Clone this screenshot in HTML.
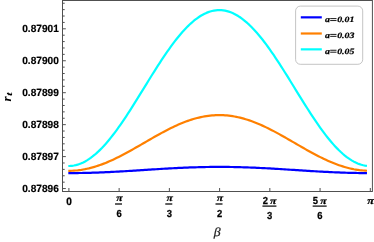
<!DOCTYPE html>
<html><head><meta charset="utf-8"><title>plot</title>
<style>html,body{margin:0;padding:0;background:#fff;}body{width:374px;height:242px;overflow:hidden;position:relative;font-family:"Liberation Sans",sans-serif;}</style>
</head><body>
<svg width="374" height="242" viewBox="0 0 374 242" style="position:absolute;left:0;top:0;will-change:transform;text-rendering:geometricPrecision">
<path d="M68.31,166.00 L70.18,165.96 L72.05,165.80 L73.91,165.52 L75.78,165.13 L77.65,164.62 L79.51,163.99 L81.38,163.25 L83.25,162.40 L85.11,161.43 L86.98,160.35 L88.84,159.16 L90.71,157.86 L92.58,156.46 L94.44,154.96 L96.31,153.35 L98.18,151.65 L100.04,149.84 L101.91,147.95 L103.78,145.96 L105.64,143.89 L107.51,141.73 L109.38,139.49 L111.24,137.17 L113.11,134.78 L114.98,132.32 L116.84,129.79 L118.71,127.20 L120.58,124.55 L122.44,121.84 L124.31,119.08 L126.18,116.27 L128.04,113.43 L129.91,110.54 L131.78,107.62 L133.64,104.67 L135.51,101.69 L137.38,98.70 L139.24,95.69 L141.11,92.66 L142.98,89.63 L144.84,86.60 L146.71,83.57 L148.58,80.54 L150.44,77.53 L152.31,74.53 L154.18,71.56 L156.04,68.61 L157.91,65.69 L159.78,62.80 L161.64,59.95 L163.51,57.14 L165.38,54.38 L167.24,51.67 L169.11,49.02 L170.98,46.42 L172.84,43.89 L174.71,41.42 L176.58,39.03 L178.44,36.71 L180.31,34.46 L182.18,32.30 L184.04,30.23 L185.91,28.24 L187.77,26.34 L189.64,24.53 L191.51,22.82 L193.37,21.21 L195.24,19.70 L197.11,18.29 L198.97,16.99 L200.84,15.80 L202.71,14.72 L204.57,13.74 L206.44,12.88 L208.31,12.14 L210.17,11.51 L212.04,10.99 L213.91,10.59 L215.77,10.31 L217.64,10.15 L219.51,10.10 L221.37,10.17 L223.24,10.36 L225.11,10.67 L226.97,11.10 L228.84,11.64 L230.71,12.29 L232.57,13.07 L234.44,13.95 L236.31,14.95 L238.17,16.06 L240.04,17.27 L241.91,18.60 L243.77,20.03 L245.64,21.56 L247.51,23.19 L249.37,24.92 L251.24,26.75 L253.11,28.67 L254.97,30.68 L256.84,32.78 L258.71,34.96 L260.57,37.22 L262.44,39.55 L264.31,41.96 L266.17,44.44 L268.04,46.99 L269.91,49.60 L271.77,52.27 L273.64,54.99 L275.51,57.76 L277.37,60.58 L279.24,63.44 L281.11,66.33 L282.97,69.26 L284.84,72.22 L286.71,75.20 L288.57,78.20 L290.44,81.21 L292.30,84.24 L294.17,87.27 L296.04,90.31 L297.90,93.33 L299.77,96.36 L301.64,99.37 L303.50,102.36 L305.37,105.33 L307.24,108.27 L309.10,111.18 L310.97,114.06 L312.84,116.90 L314.70,119.70 L316.57,122.44 L318.44,125.14 L320.30,127.78 L322.17,130.36 L324.04,132.87 L325.90,135.32 L327.77,137.70 L329.64,140.00 L331.50,142.22 L333.37,144.36 L335.24,146.41 L337.10,148.38 L338.97,150.25 L340.84,152.03 L342.70,153.72 L344.57,155.30 L346.44,156.78 L348.30,158.16 L350.17,159.43 L352.04,160.60 L353.90,161.65 L355.77,162.59 L357.64,163.43 L359.50,164.14 L361.37,164.74 L363.24,165.23 L365.10,165.59 L366.97,165.84" fill="none" stroke="#00ffff" stroke-width="2.2" stroke-linejoin="round"/>
<path d="M68.31,170.80 L70.18,170.78 L72.05,170.73 L73.91,170.63 L75.78,170.49 L77.65,170.31 L79.51,170.08 L81.38,169.82 L83.25,169.51 L85.11,169.17 L86.98,168.78 L88.84,168.36 L90.71,167.89 L92.58,167.39 L94.44,166.85 L96.31,166.28 L98.18,165.67 L100.04,165.03 L101.91,164.35 L103.78,163.64 L105.64,162.90 L107.51,162.13 L109.38,161.33 L111.24,160.50 L113.11,159.65 L114.98,158.77 L116.84,157.86 L118.71,156.94 L120.58,155.99 L122.44,155.02 L124.31,154.04 L126.18,153.03 L128.04,152.02 L129.91,150.99 L131.78,149.94 L133.64,148.89 L135.51,147.82 L137.38,146.75 L139.24,145.68 L141.11,144.60 L142.98,143.52 L144.84,142.43 L146.71,141.35 L148.58,140.27 L150.44,139.19 L152.31,138.12 L154.18,137.06 L156.04,136.00 L157.91,134.96 L159.78,133.93 L161.64,132.91 L163.51,131.91 L165.38,130.92 L167.24,129.95 L169.11,129.00 L170.98,128.08 L172.84,127.17 L174.71,126.29 L176.58,125.44 L178.44,124.61 L180.31,123.80 L182.18,123.03 L184.04,122.29 L185.91,121.58 L187.77,120.90 L189.64,120.26 L191.51,119.64 L193.37,119.07 L195.24,118.53 L197.11,118.03 L198.97,117.56 L200.84,117.14 L202.71,116.75 L204.57,116.40 L206.44,116.09 L208.31,115.83 L210.17,115.60 L212.04,115.42 L213.91,115.28 L215.77,115.18 L217.64,115.12 L219.51,115.10 L221.37,115.13 L223.24,115.19 L225.11,115.30 L226.97,115.46 L228.84,115.65 L230.71,115.88 L232.57,116.16 L234.44,116.48 L236.31,116.83 L238.17,117.23 L240.04,117.66 L241.91,118.14 L243.77,118.65 L245.64,119.19 L247.51,119.78 L249.37,120.40 L251.24,121.05 L253.11,121.73 L254.97,122.45 L256.84,123.20 L258.71,123.98 L260.57,124.79 L262.44,125.62 L264.31,126.48 L266.17,127.37 L268.04,128.28 L269.91,129.21 L271.77,130.17 L273.64,131.14 L275.51,132.13 L277.37,133.13 L279.24,134.16 L281.11,135.19 L282.97,136.24 L284.84,137.29 L286.71,138.36 L288.57,139.43 L290.44,140.51 L292.30,141.59 L294.17,142.67 L296.04,143.76 L297.90,144.84 L299.77,145.92 L301.64,146.99 L303.50,148.06 L305.37,149.12 L307.24,150.17 L309.10,151.22 L310.97,152.24 L312.84,153.26 L314.70,154.26 L316.57,155.24 L318.44,156.20 L320.30,157.14 L322.17,158.07 L324.04,158.96 L325.90,159.84 L327.77,160.69 L329.64,161.51 L331.50,162.30 L333.37,163.07 L335.24,163.80 L337.10,164.50 L338.97,165.17 L340.84,165.81 L342.70,166.41 L344.57,166.98 L346.44,167.51 L348.30,168.00 L350.17,168.45 L352.04,168.87 L353.90,169.25 L355.77,169.58 L357.64,169.88 L359.50,170.14 L361.37,170.35 L363.24,170.52 L365.10,170.65 L366.97,170.74" fill="none" stroke="#ff8000" stroke-width="2.2" stroke-linejoin="round"/>
<path d="M68.31,173.10 L70.18,173.10 L72.05,173.09 L73.91,173.08 L75.78,173.07 L77.65,173.05 L79.51,173.02 L81.38,172.99 L83.25,172.96 L85.11,172.92 L86.98,172.88 L88.84,172.83 L90.71,172.78 L92.58,172.72 L94.44,172.66 L96.31,172.60 L98.18,172.53 L100.04,172.46 L101.91,172.38 L103.78,172.30 L105.64,172.22 L107.51,172.13 L109.38,172.05 L111.24,171.95 L113.11,171.86 L114.98,171.76 L116.84,171.66 L118.71,171.56 L120.58,171.45 L122.44,171.34 L124.31,171.23 L126.18,171.12 L128.04,171.01 L129.91,170.89 L131.78,170.78 L133.64,170.66 L135.51,170.54 L137.38,170.42 L139.24,170.30 L141.11,170.18 L142.98,170.06 L144.84,169.94 L146.71,169.82 L148.58,169.70 L150.44,169.58 L152.31,169.46 L154.18,169.34 L156.04,169.23 L157.91,169.11 L159.78,169.00 L161.64,168.88 L163.51,168.77 L165.38,168.66 L167.24,168.55 L169.11,168.45 L170.98,168.34 L172.84,168.24 L174.71,168.15 L176.58,168.05 L178.44,167.96 L180.31,167.87 L182.18,167.78 L184.04,167.70 L185.91,167.62 L187.77,167.55 L189.64,167.47 L191.51,167.41 L193.37,167.34 L195.24,167.28 L197.11,167.23 L198.97,167.17 L200.84,167.13 L202.71,167.08 L204.57,167.04 L206.44,167.01 L208.31,166.98 L210.17,166.96 L212.04,166.94 L213.91,166.92 L215.77,166.91 L217.64,166.90 L219.51,166.90 L221.37,166.90 L223.24,166.91 L225.11,166.92 L226.97,166.94 L228.84,166.96 L230.71,166.99 L232.57,167.02 L234.44,167.05 L236.31,167.09 L238.17,167.14 L240.04,167.19 L241.91,167.24 L243.77,167.29 L245.64,167.36 L247.51,167.42 L249.37,167.49 L251.24,167.56 L253.11,167.64 L254.97,167.72 L256.84,167.80 L258.71,167.89 L260.57,167.98 L262.44,168.07 L264.31,168.17 L266.17,168.27 L268.04,168.37 L269.91,168.47 L271.77,168.58 L273.64,168.69 L275.51,168.80 L277.37,168.91 L279.24,169.02 L281.11,169.14 L282.97,169.25 L284.84,169.37 L286.71,169.49 L288.57,169.61 L290.44,169.73 L292.30,169.85 L294.17,169.97 L296.04,170.09 L297.90,170.21 L299.77,170.33 L301.64,170.45 L303.50,170.57 L305.37,170.69 L307.24,170.80 L309.10,170.92 L310.97,171.03 L312.84,171.15 L314.70,171.26 L316.57,171.37 L318.44,171.48 L320.30,171.58 L322.17,171.68 L324.04,171.78 L325.90,171.88 L327.77,171.97 L329.64,172.07 L331.50,172.15 L333.37,172.24 L335.24,172.32 L337.10,172.40 L338.97,172.47 L340.84,172.54 L342.70,172.61 L344.57,172.67 L346.44,172.73 L348.30,172.79 L350.17,172.84 L352.04,172.89 L353.90,172.93 L355.77,172.96 L357.64,173.00 L359.50,173.03 L361.37,173.05 L363.24,173.07 L365.10,173.08 L366.97,173.09" fill="none" stroke="#0000ff" stroke-width="2.2" stroke-linejoin="round"/>
<rect x="62.5" y="0.5" width="309.90" height="191.0" fill="none" stroke="#505050" stroke-width="1"/>
<line x1="62.5" y1="188.55" x2="65.8" y2="188.55" stroke="#505050" stroke-width="1"/>
<line x1="62.5" y1="182.16" x2="64.7" y2="182.16" stroke="#505050" stroke-width="1"/>
<line x1="62.5" y1="175.77" x2="64.7" y2="175.77" stroke="#505050" stroke-width="1"/>
<line x1="62.5" y1="169.38" x2="64.7" y2="169.38" stroke="#505050" stroke-width="1"/>
<line x1="62.5" y1="162.99" x2="64.7" y2="162.99" stroke="#505050" stroke-width="1"/>
<line x1="62.5" y1="156.60" x2="65.8" y2="156.60" stroke="#505050" stroke-width="1"/>
<line x1="62.5" y1="150.21" x2="64.7" y2="150.21" stroke="#505050" stroke-width="1"/>
<line x1="62.5" y1="143.82" x2="64.7" y2="143.82" stroke="#505050" stroke-width="1"/>
<line x1="62.5" y1="137.43" x2="64.7" y2="137.43" stroke="#505050" stroke-width="1"/>
<line x1="62.5" y1="131.04" x2="64.7" y2="131.04" stroke="#505050" stroke-width="1"/>
<line x1="62.5" y1="124.65" x2="65.8" y2="124.65" stroke="#505050" stroke-width="1"/>
<line x1="62.5" y1="118.26" x2="64.7" y2="118.26" stroke="#505050" stroke-width="1"/>
<line x1="62.5" y1="111.87" x2="64.7" y2="111.87" stroke="#505050" stroke-width="1"/>
<line x1="62.5" y1="105.48" x2="64.7" y2="105.48" stroke="#505050" stroke-width="1"/>
<line x1="62.5" y1="99.09" x2="64.7" y2="99.09" stroke="#505050" stroke-width="1"/>
<line x1="62.5" y1="92.70" x2="65.8" y2="92.70" stroke="#505050" stroke-width="1"/>
<line x1="62.5" y1="86.31" x2="64.7" y2="86.31" stroke="#505050" stroke-width="1"/>
<line x1="62.5" y1="79.92" x2="64.7" y2="79.92" stroke="#505050" stroke-width="1"/>
<line x1="62.5" y1="73.53" x2="64.7" y2="73.53" stroke="#505050" stroke-width="1"/>
<line x1="62.5" y1="67.14" x2="64.7" y2="67.14" stroke="#505050" stroke-width="1"/>
<line x1="62.5" y1="60.75" x2="65.8" y2="60.75" stroke="#505050" stroke-width="1"/>
<line x1="62.5" y1="54.36" x2="64.7" y2="54.36" stroke="#505050" stroke-width="1"/>
<line x1="62.5" y1="47.97" x2="64.7" y2="47.97" stroke="#505050" stroke-width="1"/>
<line x1="62.5" y1="41.58" x2="64.7" y2="41.58" stroke="#505050" stroke-width="1"/>
<line x1="62.5" y1="35.19" x2="64.7" y2="35.19" stroke="#505050" stroke-width="1"/>
<line x1="62.5" y1="28.80" x2="65.8" y2="28.80" stroke="#505050" stroke-width="1"/>
<line x1="62.5" y1="22.41" x2="64.7" y2="22.41" stroke="#505050" stroke-width="1"/>
<line x1="62.5" y1="16.02" x2="64.7" y2="16.02" stroke="#505050" stroke-width="1"/>
<line x1="62.5" y1="9.63" x2="64.7" y2="9.63" stroke="#505050" stroke-width="1"/>
<line x1="62.5" y1="3.24" x2="64.7" y2="3.24" stroke="#505050" stroke-width="1"/>
<line x1="68.90" y1="191.5" x2="68.90" y2="188.0" stroke="#505050" stroke-width="1"/>
<line x1="119.13" y1="191.5" x2="119.13" y2="188.0" stroke="#505050" stroke-width="1"/>
<line x1="169.37" y1="191.5" x2="169.37" y2="188.0" stroke="#505050" stroke-width="1"/>
<line x1="219.60" y1="191.5" x2="219.60" y2="188.0" stroke="#505050" stroke-width="1"/>
<line x1="269.83" y1="191.5" x2="269.83" y2="188.0" stroke="#505050" stroke-width="1"/>
<line x1="320.07" y1="191.5" x2="320.07" y2="188.0" stroke="#505050" stroke-width="1"/>
<line x1="370.30" y1="191.5" x2="370.30" y2="188.0" stroke="#505050" stroke-width="1"/>
<rect x="295.6" y="6.1" width="67.1" height="58.2" rx="4.8" ry="4.8" fill="#fff" stroke="#a6a6a6" stroke-width="0.65"/>
<line x1="300.8" y1="17.35" x2="321.8" y2="17.35" stroke="#0000ff" stroke-width="2.2"/>
<text x="324.9" y="21.85" font-family="Liberation Serif" font-style="italic" font-weight="bold" fill="#000" font-size="8.4" textLength="4.9" lengthAdjust="spacingAndGlyphs" stroke="#000" stroke-width="0.25">a</text>
<path d="M330.2 18.60h6.3M330.2 20.55h6.3" stroke="#000" stroke-width="0.9" fill="none"/>
<text x="337.2" y="21.85" font-family="Liberation Serif" font-style="italic" font-weight="bold" fill="#000" font-size="8.3" textLength="17.3" lengthAdjust="spacingAndGlyphs" stroke="#000" stroke-width="0.2">0.01</text>
<line x1="300.8" y1="33.5" x2="321.8" y2="33.5" stroke="#ff8000" stroke-width="2.2"/>
<text x="324.9" y="37.65" font-family="Liberation Serif" font-style="italic" font-weight="bold" fill="#000" font-size="8.4" textLength="4.9" lengthAdjust="spacingAndGlyphs" stroke="#000" stroke-width="0.25">a</text>
<path d="M330.2 34.40h6.3M330.2 36.35h6.3" stroke="#000" stroke-width="0.9" fill="none"/>
<text x="337.2" y="37.65" font-family="Liberation Serif" font-style="italic" font-weight="bold" fill="#000" font-size="8.3" textLength="17.3" lengthAdjust="spacingAndGlyphs" stroke="#000" stroke-width="0.2">0.03</text>
<line x1="300.8" y1="49.35" x2="321.8" y2="49.35" stroke="#00ffff" stroke-width="2.2"/>
<text x="324.9" y="53.50" font-family="Liberation Serif" font-style="italic" font-weight="bold" fill="#000" font-size="8.4" textLength="4.9" lengthAdjust="spacingAndGlyphs" stroke="#000" stroke-width="0.25">a</text>
<path d="M330.2 50.25h6.3M330.2 52.20h6.3" stroke="#000" stroke-width="0.9" fill="none"/>
<text x="337.2" y="53.50" font-family="Liberation Serif" font-style="italic" font-weight="bold" fill="#000" font-size="8.3" textLength="17.3" lengthAdjust="spacingAndGlyphs" stroke="#000" stroke-width="0.2">0.05</text>
<text x="22.2" y="192.40" font-family="Liberation Sans" font-weight="bold" font-size="10.4" textLength="36.6" lengthAdjust="spacingAndGlyphs" fill="#000" stroke="#000" stroke-width="0.18">0.87896</text>
<text x="22.2" y="160.37" font-family="Liberation Sans" font-weight="bold" font-size="10.4" textLength="36.6" lengthAdjust="spacingAndGlyphs" fill="#000" stroke="#000" stroke-width="0.18">0.87897</text>
<text x="22.2" y="128.34" font-family="Liberation Sans" font-weight="bold" font-size="10.4" textLength="36.6" lengthAdjust="spacingAndGlyphs" fill="#000" stroke="#000" stroke-width="0.18">0.87898</text>
<text x="22.2" y="96.31" font-family="Liberation Sans" font-weight="bold" font-size="10.4" textLength="36.6" lengthAdjust="spacingAndGlyphs" fill="#000" stroke="#000" stroke-width="0.18">0.87899</text>
<text x="22.2" y="64.28" font-family="Liberation Sans" font-weight="bold" font-size="10.4" textLength="36.6" lengthAdjust="spacingAndGlyphs" fill="#000" stroke="#000" stroke-width="0.18">0.87900</text>
<text x="22.2" y="32.25" font-family="Liberation Sans" font-weight="bold" font-size="10.4" textLength="36.6" lengthAdjust="spacingAndGlyphs" fill="#000" stroke="#000" stroke-width="0.18">0.87901</text>
<text x="66.15" y="204.5" font-family="Liberation Sans" font-weight="bold" font-size="10.8" fill="#000" stroke="#000" stroke-width="0.25" textLength="5.6" lengthAdjust="spacingAndGlyphs">0</text>
<text x="116.23" y="200.9" font-family="Liberation Serif" font-style="italic" font-weight="bold" fill="#000" font-size="9.6" textLength="6.4" lengthAdjust="spacingAndGlyphs" stroke="#000" stroke-width="0.2">π</text>
<line x1="115.03" y1="204.0" x2="122.03" y2="204.0" stroke="#000" stroke-width="1.25"/>
<text x="119.13" y="216.5" text-anchor="middle" font-family="Liberation Sans" font-weight="bold" font-size="10.2" fill="#000" stroke="#000" stroke-width="0.25" textLength="5.25" lengthAdjust="spacingAndGlyphs">6</text>
<text x="166.47" y="200.9" font-family="Liberation Serif" font-style="italic" font-weight="bold" fill="#000" font-size="9.6" textLength="6.4" lengthAdjust="spacingAndGlyphs" stroke="#000" stroke-width="0.2">π</text>
<line x1="165.27" y1="204.0" x2="172.27" y2="204.0" stroke="#000" stroke-width="1.25"/>
<text x="169.37" y="216.5" text-anchor="middle" font-family="Liberation Sans" font-weight="bold" font-size="10.2" fill="#000" stroke="#000" stroke-width="0.25" textLength="5.25" lengthAdjust="spacingAndGlyphs">3</text>
<text x="216.70" y="200.9" font-family="Liberation Serif" font-style="italic" font-weight="bold" fill="#000" font-size="9.6" textLength="6.4" lengthAdjust="spacingAndGlyphs" stroke="#000" stroke-width="0.2">π</text>
<line x1="215.50" y1="204.0" x2="222.50" y2="204.0" stroke="#000" stroke-width="1.25"/>
<text x="219.60" y="216.5" text-anchor="middle" font-family="Liberation Sans" font-weight="bold" font-size="10.2" fill="#000" stroke="#000" stroke-width="0.25" textLength="5.25" lengthAdjust="spacingAndGlyphs">2</text>
<text x="262.63" y="203.6" font-family="Liberation Sans" font-weight="bold" font-size="10.2" fill="#000" stroke="#000" stroke-width="0.25" textLength="5.25" lengthAdjust="spacingAndGlyphs">2</text>
<text x="270.13" y="203.6" font-family="Liberation Serif" font-style="italic" font-weight="bold" fill="#000" font-size="9.6" textLength="6.4" lengthAdjust="spacingAndGlyphs" stroke="#000" stroke-width="0.2">π</text>
<line x1="262.43" y1="206.1" x2="276.43" y2="206.1" stroke="#000" stroke-width="1.2"/>
<text x="269.63" y="218.7" text-anchor="middle" font-family="Liberation Sans" font-weight="bold" font-size="10.2" fill="#000" stroke="#000" stroke-width="0.25" textLength="5.25" lengthAdjust="spacingAndGlyphs">3</text>
<text x="312.87" y="203.6" font-family="Liberation Sans" font-weight="bold" font-size="10.2" fill="#000" stroke="#000" stroke-width="0.25" textLength="5.25" lengthAdjust="spacingAndGlyphs">5</text>
<text x="320.37" y="203.6" font-family="Liberation Serif" font-style="italic" font-weight="bold" fill="#000" font-size="9.6" textLength="6.4" lengthAdjust="spacingAndGlyphs" stroke="#000" stroke-width="0.2">π</text>
<line x1="312.67" y1="206.1" x2="326.67" y2="206.1" stroke="#000" stroke-width="1.2"/>
<text x="319.87" y="218.7" text-anchor="middle" font-family="Liberation Sans" font-weight="bold" font-size="10.2" fill="#000" stroke="#000" stroke-width="0.25" textLength="5.25" lengthAdjust="spacingAndGlyphs">6</text>
<text x="367.30" y="204.4" font-family="Liberation Serif" font-style="italic" font-weight="bold" fill="#000" font-size="10.1" textLength="6.8" lengthAdjust="spacingAndGlyphs" stroke="#000" stroke-width="0.2">π</text>
<text x="213.8" y="236.3" font-family="Liberation Serif" font-style="italic" font-size="12.2" fill="#222" stroke="#222" stroke-width="0.2" textLength="6.9" lengthAdjust="spacingAndGlyphs">β</text>
<g transform="translate(11.0,101.4) rotate(-90)"><text x="0" y="0" font-family="Liberation Serif" font-style="italic" font-weight="bold" fill="#000" font-size="13">r</text><text x="5.5" y="0.8" font-family="Liberation Serif" font-style="italic" font-weight="bold" fill="#000" font-size="9" textLength="3.8" lengthAdjust="spacingAndGlyphs">t</text></g>
</svg>
</body></html>
